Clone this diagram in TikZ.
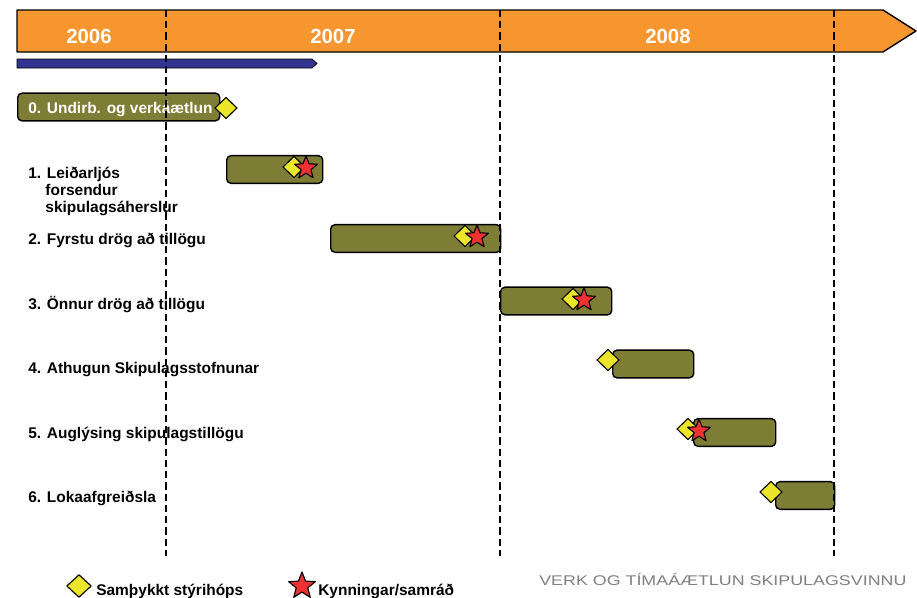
\documentclass[tikz,border=0pt]{standalone}
\usepackage{fontspec}
\setmainfont{Liberation Sans}
\usetikzlibrary{shapes.geometric}
\definecolor{yearorange}{HTML}{F7962F}
\definecolor{plannavy}{HTML}{333391}
\definecolor{taskolive}{HTML}{7D7D35}
\definecolor{okyellow}{HTML}{EBE62A}
\definecolor{meetred}{HTML}{EE3131}
\definecolor{titlegrey}{HTML}{7F7F7F}

\begin{document}
\begin{tikzpicture}[x=0.025cm, y=-0.025cm, line join=round,
  bar/.style={draw, line width=1pt, fill=taskolive, rounded corners=3pt,
    minimum height=0.69cm, inner sep=0pt, anchor=west},
  okmark/.style={diamond, draw, line width=0.8pt, fill=okyellow,
    minimum width=0.56cm, minimum height=0.54cm, inner sep=0pt},
  meetmark/.style={star, star points=5, star point ratio=2.3, draw,
    line width=0.8pt, fill=meetred, minimum size=0.6cm, inner sep=0pt},
  task/.style={anchor=base west, inner sep=0pt, font=\fontsize{11}{12}\selectfont\bfseries},
  year/.style={text=white, inner sep=0pt, font=\fontsize{14.5}{16}\selectfont\bfseries},
  yearline/.style={line width=1pt, dash pattern=on 5pt off 3pt}]
  \useasboundingbox (0,0) rectangle (917,598);
  % time axis
  \draw[fill=yearorange, line width=1pt] (17,10) -- (883,10) -- (916,31) -- (883,52) -- (17,52) -- cycle;
  \node[year] (y2006) at (89,36)  {2006};
  \node[year] (y2007) at (333,36) {2007};
  \node[year] (y2008) at (668,36) {2008};
  \draw[fill=plannavy, line width=0.6pt] (17,59) -- (312,59) -- (317,63.5) -- (312,68) -- (17,68) -- cycle;
  % tasks
  \node[bar, minimum width=5.05cm]  (t0) at (17,107)    {};
  \node[bar, minimum width=2.4cm]   (t1) at (226,169.5) {};
  \node[bar, minimum width=4.25cm]  (t2) at (330,238.5) {};
  \node[bar, minimum width=2.775cm] (t3) at (500,301)   {};
  \node[bar, minimum width=2.025cm] (t4) at (612,364)   {};
  \node[bar, minimum width=2.05cm]  (t5) at (693,432.5) {};
  \node[bar, minimum width=1.475cm] (t6) at (775,495.5) {};
  \node[task, text=white] (l0) at (28,113) {0. Undirb. og verkáætlun};
  \node[task, anchor=north west, align=left] (l1) at (28,167)
    {1. Leiðarljós\\\phantom{1.~}forsendur\\\phantom{1.~}skipulagsáherslur};
  \node[task] (l2) at (28,244) {2. Fyrstu drög að tillögu};
  \node[task] (l3) at (28,309) {3. Önnur drög að tillögu};
  \node[task] (l4) at (28,373) {4. Athugun Skipulagsstofnunar};
  \node[task] (l5) at (28,438) {5. Auglýsing skipulagstillögu};
  \node[task] (l6) at (28,502) {6. Lokaafgreiðsla};
  % year marks
  \draw[yearline] (166,10) -- (166,556);
  \draw[yearline] (500,10) -- (500,556);
  \draw[yearline] (834,10) -- (834,556);
  % milestones
  \node[okmark]   (d0) at (226,108) {};
  \node[okmark]   (d1) at (294,167) {};
  \node[meetmark] (s1) at (306,168) {};
  \node[okmark]   (d2) at (465,236) {};
  \node[meetmark] (s2) at (477,237) {};
  \node[okmark]   (d3) at (573,299) {};
  \node[meetmark] (s3) at (584,300) {};
  \node[okmark]   (d4) at (608,360) {};
  \node[okmark]   (d5) at (688,429) {};
  \node[meetmark] (s5) at (699,431) {};
  \node[okmark]   (d6) at (771,492) {};
  % legend
  \node[okmark, minimum width=0.62cm, minimum height=0.57cm] (okkey) at (79,586) {};
  \node[task] (oktext) at (96,595) {Samþykkt stýrihóps};
  \node[meetmark, minimum size=0.7cm] (meetkey) at (302,586) {};
  \node[task] (meettext) at (318,595) {Kynningar/samráð};
  \node[anchor=base west, inner sep=0pt, text=titlegrey, font=\fontsize{10}{12}\selectfont] (title)
    at (539,585) {\scalebox{1.27}[1]{VERK OG TÍMAÁÆTLUN SKIPULAGSVINNU}};
\end{tikzpicture}
\end{document}
